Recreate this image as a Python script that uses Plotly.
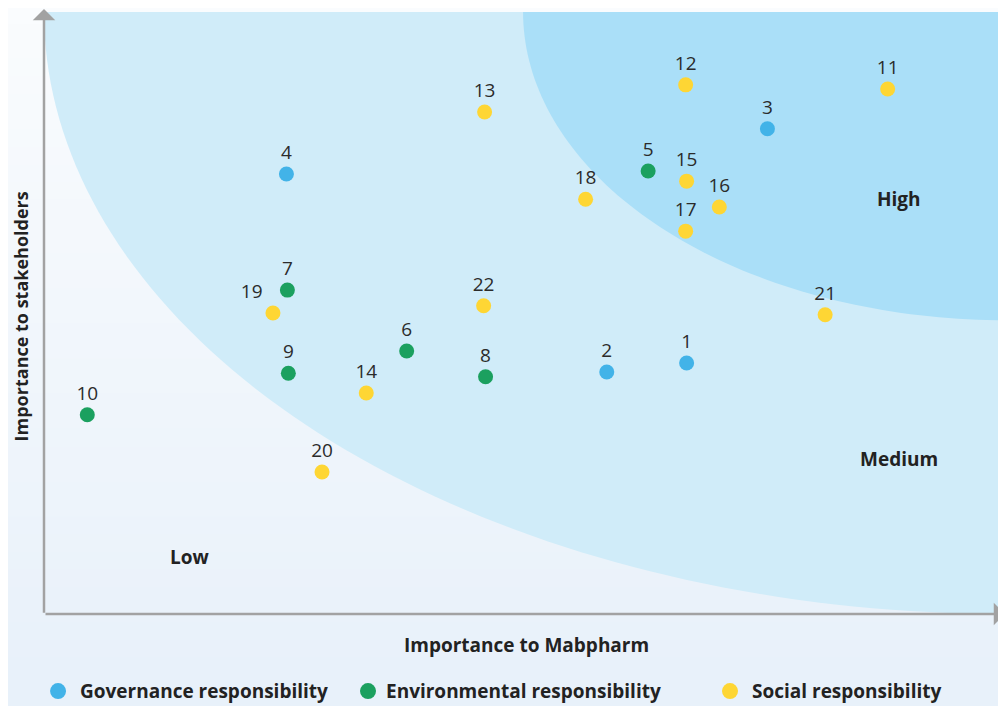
import numpy as np
import plotly.graph_objects as go

# ── data ────────────────────────────────────────────────────────────────
labels = [str(i) for i in range(1, 23)]
category = ["Governance"] * 4 + ["Environmental"] * 6 + ["Social"] * 12
imp_mabpharm = [6.68, 5.85, 7.52, 2.52, 6.28, 3.77, 2.53, 4.59, 2.54, 0.45, 8.77,
                6.67, 4.58, 3.35, 6.68, 7.02, 6.67, 5.63, 2.38, 2.89, 8.12, 4.57]
imp_stakeholders = [4.17, 4.02, 8.06, 7.31, 7.36, 4.37, 5.38, 3.94, 4.00, 3.31, 8.72,
                    8.79, 8.34, 3.67, 7.19, 6.76, 6.36, 6.89, 5.00, 2.36, 4.97, 5.12]

legend_names = ["Governance responsibility", "Environmental responsibility", "Social responsibility"]
colors = {"Governance": "#42b3e8", "Environmental": "#1ba05f", "Social": "#fed634"}

FONT = "Open Sans"
TXT = "#2b2b2b"
BOLD = dict(family=FONT, size=19, color="#222222", weight=700)

fig = go.Figure()

# ── background gradient (whole paper) ──────────────────────────────────
n_strips = 40
top = np.array([250, 252, 254])
bot = np.array([232, 241, 250])
for i in range(n_strips):
    t = i / (n_strips - 1)
    c = (top + (bot - top) * t).astype(int)
    y1 = 1.01 - i * (1.17 / n_strips)
    y0 = y1 - 1.17 / n_strips - 0.002
    fig.add_shape(type="rect", xref="paper", yref="paper",
                  x0=-0.05, x1=1.01, y0=y0, y1=y1, layer="below",
                  line=dict(width=0), fillcolor=f"rgb({c[0]},{c[1]},{c[2]})")


# ── materiality zones (quarter ellipses around top-right corner) ────────
def zone_path(cx, cy, a, b, n=80):
    th = np.linspace(np.pi, 1.5 * np.pi, n)
    xs = cx + a * np.cos(th)
    ys = cy + b * np.sin(th)
    keep = (xs >= 0) & (ys >= 0)
    xs, ys = xs[keep], ys[keep]
    pts = " L ".join(f"{x:.4f},{y:.4f}" for x, y in zip(xs, ys))
    return f"M {pts} L {cx},{cy} Z"


fig.add_shape(type="path", path=zone_path(10, 10, 10.0, 10.0), layer="below",
              fillcolor="#d0ecf9", line=dict(width=0))
fig.add_shape(type="path", path=zone_path(10, 10, 5.02, 5.12), layer="below",
              fillcolor="#aadff8", line=dict(width=0))

# ── points ──────────────────────────────────────────────────────────────
for cat, name in zip(["Governance", "Environmental", "Social"], legend_names):
    idx = [i for i, c in enumerate(category) if c == cat]
    fig.add_trace(go.Scatter(
        x=[imp_mabpharm[i] for i in idx],
        y=[imp_stakeholders[i] for i in idx],
        text=[labels[i] for i in idx],
        textposition=["top left" if labels[i] == "19" else "top center" for i in idx],
        mode="markers+text",
        name=name,
        marker=dict(size=15, color=colors[cat], line=dict(width=0)),
        textfont=dict(family=FONT, size=19, color=TXT),
        cliponaxis=False,
        showlegend=False,
        hoverinfo="skip",
    ))

# ── zone labels ─────────────────────────────────────────────────────────
for txt, x, y in [("High", 8.89, 6.89), ("Medium", 8.89, 2.57), ("Low", 1.51, 0.95)]:
    fig.add_annotation(x=x, y=y, text=txt, showarrow=False, font=BOLD)

# ── axes with arrows ────────────────────────────────────────────────────
fig.add_annotation(xref="paper", yref="paper", x=0, y=1.008, ax=0, ay=607,
                   showarrow=True, arrowhead=1, arrowsize=1.5, arrowwidth=2.5,
                   arrowcolor="#a2a2a2", text="")
fig.add_annotation(xref="paper", yref="paper", x=1.0, y=0, ax=-962, ay=0,
                   showarrow=True, arrowhead=1, arrowsize=1.5, arrowwidth=2.5,
                   arrowcolor="#a2a2a2", text="")

fig.add_annotation(xref="paper", yref="paper", x=0.502, y=-0.0515,
                   xanchor="center", yanchor="middle",
                   text="Importance to Mabpharm", showarrow=False, font=BOLD)
fig.add_annotation(xref="paper", yref="paper", x=-0.0235, y=0.495, textangle=-90,
                   xanchor="center", yanchor="middle",
                   text="Importance to stakeholders", showarrow=False,
                   font=dict(BOLD, size=18))

# ── legend (drawn manually for uneven spacing) ──────────────────────────
for cat, name, dot_x, txt_x in zip(["Governance", "Environmental", "Social"], legend_names,
                                   [0.0146, 0.3368, 0.7131], [0.0353, 0.3534, 0.7339]):
    fig.add_shape(type="circle", xref="paper", yref="paper",
                  xsizemode="pixel", ysizemode="pixel",
                  xanchor=dot_x, yanchor=-0.128, x0=-8, x1=8, y0=-8, y1=8,
                  fillcolor=colors[cat], line=dict(width=0))
    fig.add_annotation(xref="paper", yref="paper", x=txt_x, y=-0.128,
                       xanchor="left", yanchor="middle",
                       text=name, showarrow=False, font=BOLD)

# page body has an 8px margin, so the figure is sized/offset to compensate
fig.update_layout(
    width=998, height=698,
    margin=dict(l=36, r=0, t=4, b=92),
    paper_bgcolor="#f4f8fc",
    plot_bgcolor="rgba(0,0,0,0)",
    xaxis=dict(visible=False, range=[0, 10], fixedrange=True),
    yaxis=dict(visible=False, range=[0, 10], fixedrange=True),
    showlegend=False,
)

fig.write_html("out.html")
